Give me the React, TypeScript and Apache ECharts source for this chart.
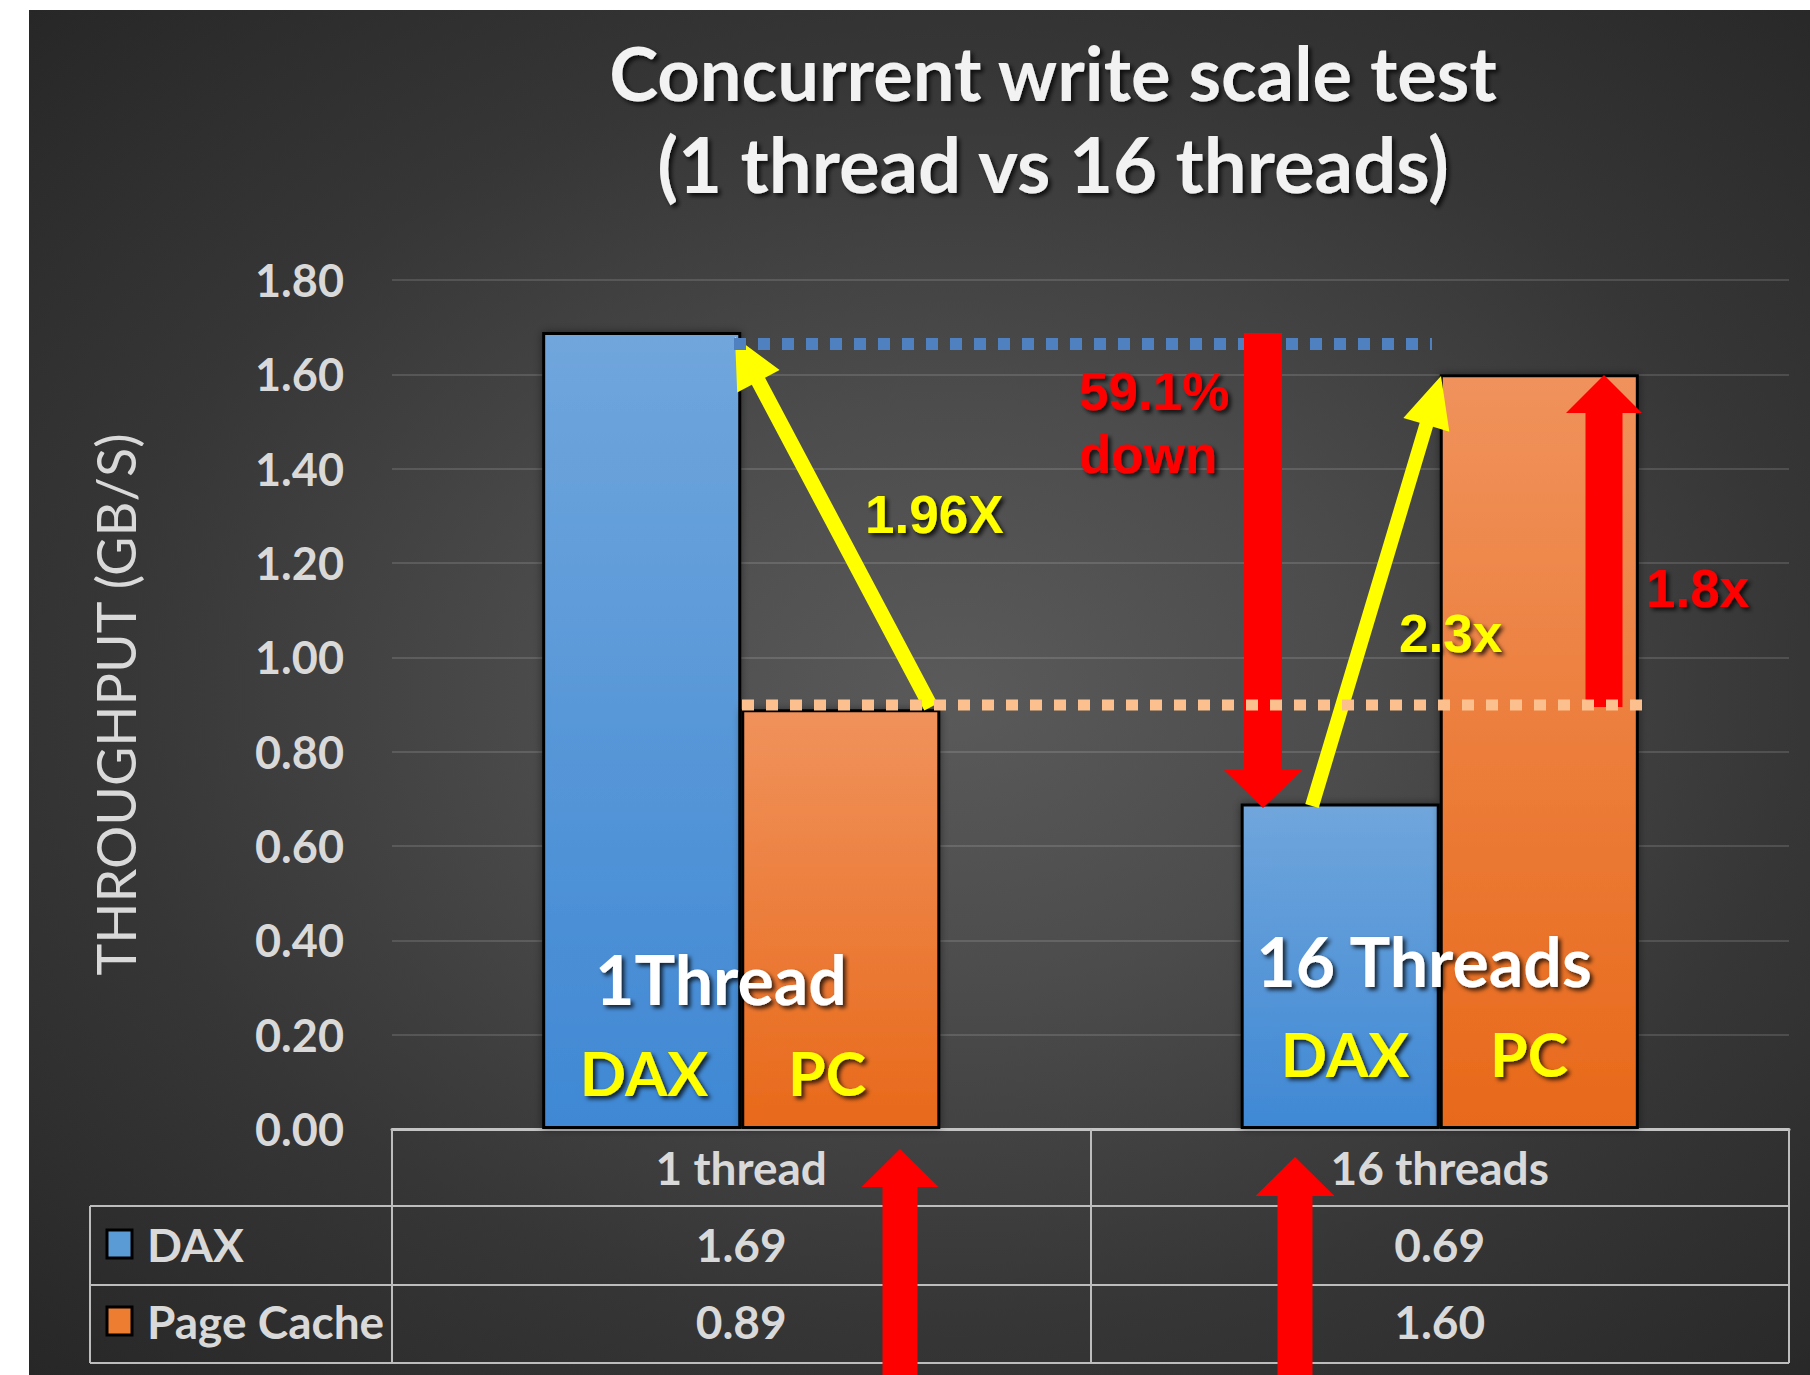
import React, { useEffect, useRef } from 'react';
import * as echarts from 'echarts';

// ---------- data ----------
const categories = ['1 thread', '16 threads'];
const seriesNames = ['DAX', 'Page Cache'];
const daxValues = [1.69, 0.69];
const pageCacheValues = [0.89, 1.6];
const yMin = 0;
const yMax = 1.8;
const yInterval = 0.2;
const titleLines = ['Concurrent write scale test', '(1 thread vs 16 threads)'];
const yAxisName = 'THROUGHPUT (GB/S)';
const groupLabels = ['1Thread', '16 Threads'];
const barShortLabels = ['DAX', 'PC'];

// ---------- layout ----------
const W = 1810;
const H = 1375;
const GL = 392;
const GR = 1789;
const GT = 280;
const GB = 1129;

const FONT = 'Lato, "Open Sans", sans-serif';
const ARIAL = '"Liberation Sans", Arial, sans-serif';

function arrowPoints(x1: number, y1: number, x2: number, y2: number, shaft: number, headL: number, headW: number) {
  const dx = x2 - x1;
  const dy = y2 - y1;
  const len = Math.sqrt(dx * dx + dy * dy);
  const ux = dx / len;
  const uy = dy / len;
  const nx = -uy;
  const ny = ux;
  const bx = x2 - ux * headL;
  const by = y2 - uy * headL;
  const s = shaft / 2;
  const h = headW / 2;
  return [
    [x1 + nx * s, y1 + ny * s],
    [bx + nx * s, by + ny * s],
    [bx + nx * h, by + ny * h],
    [x2, y2],
    [bx - nx * h, by - ny * h],
    [bx - nx * s, by - ny * s],
    [x1 - nx * s, y1 - ny * s],
  ];
}

function arrow(x1: number, y1: number, x2: number, y2: number, shaft: number, headL: number, headW: number, fill: string, z: number) {
  return {
    type: 'polygon',
    z,
    shape: { points: arrowPoints(x1, y1, x2, y2, shaft, headL, headW) },
    style: { fill },
  };
}

const shadowText = {
  textShadowColor: 'rgba(0,0,0,0.75)',
  textShadowBlur: 4,
  textShadowOffsetX: 3,
  textShadowOffsetY: 3,
};

function txt(x: number, y: number, text: string, opts: any, z = 30) {
  return {
    type: 'text',
    z,
    x,
    y,
    style: {
      text,
      textAlign: 'center',
      textVerticalAlign: 'middle',
      ...opts,
    },
  };
}

export default function App() {
  const ref = useRef<HTMLDivElement>(null);

  useEffect(() => {
    const chart = echarts.init(ref.current!, null, { renderer: 'svg' });

    const catW = (GR - GL) / categories.length;
    const catCenter = (i: number) => GL + catW * (i + 0.5);
    const rowY = [1244, 1321];
    const rowValues = [daxValues, pageCacheValues];

    const blueGrad = new echarts.graphic.LinearGradient(0, 0, 0, 1, [
      { offset: 0, color: '#70a6dc' },
      { offset: 1, color: '#3f88d4' },
    ]);
    const orangeGrad = new echarts.graphic.LinearGradient(0, 0, 0, 1, [
      { offset: 0, color: '#f0925c' },
      { offset: 1, color: '#e8691a' },
    ]);
    const legendColors = ['#5b9bd5', '#ed7d31'];

    const graphics: any[] = [];

    // title
    graphics.push(
      txt(1053, 72, titleLines[0], { fill: '#f2f2f2', font: `bold 74px ${FONT}`, ...shadowText }, 40),
      txt(1053, 163, titleLines[1], { fill: '#f2f2f2', font: `bold 76px ${FONT}`, ...shadowText }, 40)
    );

    // table lines
    const tableStroke = { stroke: '#bdbdbd', lineWidth: 2 };
    [1206, 1285, 1363].forEach((y) => {
      graphics.push({ type: 'line', z: 5, shape: { x1: 90, y1: y, x2: GR, y2: y }, style: tableStroke });
    });
    graphics.push({ type: 'line', z: 5, shape: { x1: 90, y1: 1206, x2: 90, y2: 1363 }, style: tableStroke });

    // legend keys + table values
    seriesNames.forEach((name, r) => {
      graphics.push({
        type: 'rect',
        z: 6,
        shape: { x: 107, y: rowY[r] - 14, width: 25, height: 28 },
        style: { fill: legendColors[r], stroke: '#000', lineWidth: 3 },
      });
      graphics.push({
        type: 'text',
        z: 6,
        x: 147,
        y: rowY[r],
        style: { text: name, fill: '#d9d9d9', font: `bold 46px ${FONT}`, textAlign: 'left', textVerticalAlign: 'middle' },
      });
      categories.forEach((_, c) => {
        graphics.push(txt(catCenter(c), rowY[r], rowValues[r][c].toFixed(2), { fill: '#d9d9d9', font: `bold 46px ${FONT}` }, 6));
      });
    });

    // yellow arrows
    graphics.push(arrow(931, 707, 735, 337, 15, 50, 48, '#ffff00', 20));
    graphics.push(arrow(1312, 806, 1441, 376, 14, 51, 48, '#ffff00', 20));

    // blue dotted line
    graphics.push({
      type: 'line',
      z: 21,
      shape: { x1: 734, y1: 344, x2: 1432, y2: 344 },
      style: { stroke: '#4f81c0', lineWidth: 12, lineDash: [12, 12] },
    });

    // red arrows
    graphics.push(arrow(1263, 333, 1263, 808, 38, 38, 78, '#ff0000', 22));
    graphics.push(arrow(1604, 707, 1604, 375, 37, 38, 76, '#ff0000', 22));
    graphics.push(arrow(900, 1380, 900, 1149, 35, 38, 77, '#ff0000', 22));
    graphics.push(arrow(1295, 1380, 1295, 1157, 35, 39, 79, '#ff0000', 22));

    // orange dotted line
    graphics.push({
      type: 'line',
      z: 23,
      shape: { x1: 742, y1: 705, x2: 1646, y2: 705 },
      style: { stroke: '#fbc08e', lineWidth: 11, lineDash: [12, 12] },
    });

    // annotation texts
    const annoFont = `bold 53px ${ARIAL}`;
    graphics.push(
      { type: 'text', z: 30, x: 865, y: 514, style: { text: '1.96X', fill: '#ffff00', font: annoFont, textAlign: 'left', textVerticalAlign: 'middle', ...shadowText } },
      { type: 'text', z: 30, x: 1079, y: 391, style: { text: '59.1%', fill: '#ff0000', font: annoFont, textAlign: 'left', textVerticalAlign: 'middle', ...shadowText } },
      { type: 'text', z: 30, x: 1079, y: 454, style: { text: 'down', fill: '#ff0000', font: annoFont, textAlign: 'left', textVerticalAlign: 'middle', ...shadowText } },
      { type: 'text', z: 30, x: 1399, y: 633, style: { text: '2.3x', fill: '#ffff00', font: annoFont, textAlign: 'left', textVerticalAlign: 'middle', ...shadowText } },
      { type: 'text', z: 30, x: 1646, y: 588, style: { text: '1.8x', fill: '#ff0000', font: annoFont, textAlign: 'left', textVerticalAlign: 'middle', ...shadowText } }
    );

    // labels inside bars
    graphics.push(
      txt(721, 978, groupLabels[0], { fill: '#ffffff', font: `bold 68px ${FONT}`, ...shadowText }, 30),
      txt(644, 1072, barShortLabels[0], { fill: '#ffff00', font: `bold 61px ${FONT}`, ...shadowText }, 30),
      txt(827, 1072, barShortLabels[1], { fill: '#ffff00', font: `bold 61px ${FONT}`, ...shadowText }, 30),
      txt(1424, 960, groupLabels[1], { fill: '#ffffff', font: `bold 68px ${FONT}`, ...shadowText }, 30),
      txt(1345, 1053, barShortLabels[0], { fill: '#ffff00', font: `bold 61px ${FONT}`, ...shadowText }, 30),
      txt(1529, 1053, barShortLabels[1], { fill: '#ffff00', font: `bold 61px ${FONT}`, ...shadowText }, 30)
    );

    const option: any = {
      animation: false,
      backgroundColor: 'transparent',
      grid: { left: GL, right: W - GR, top: GT, bottom: H - GB, containLabel: false },
      xAxis: {
        type: 'category',
        data: categories,
        axisLine: { show: true, lineStyle: { color: '#c4c4c4', width: 3 } },
        axisTick: { show: true, length: 234, lineStyle: { color: '#bdbdbd', width: 2 } },
        axisLabel: { color: '#d9d9d9', fontFamily: FONT, fontWeight: 'bold', fontSize: 46, margin: 15 },
        splitLine: { show: false },
      },
      yAxis: {
        type: 'value',
        min: yMin,
        max: yMax,
        interval: yInterval,
        name: yAxisName,
        nameLocation: 'middle',
        nameGap: 250,
        nameTextStyle: { color: '#d9d9d9', fontFamily: FONT, fontSize: 54, fontWeight: 'normal' },
        axisLine: { show: false },
        axisTick: { show: false },
        axisLabel: {
          color: '#d9d9d9',
          fontFamily: FONT,
          fontWeight: 'bold',
          fontSize: 45,
          margin: 48,
          formatter: (v: number) => v.toFixed(2),
        },
        splitLine: { lineStyle: { color: 'rgba(255,255,255,0.13)', width: 2 } },
      },
      series: [
        {
          name: seriesNames[0],
          type: 'bar',
          data: daxValues,
          barGap: '0%',
          barCategoryGap: '43%',
          itemStyle: { color: blueGrad, borderColor: '#000', borderWidth: 3, shadowBlur: 8, shadowColor: 'rgba(0,0,0,0.45)' },
        },
        {
          name: seriesNames[1],
          type: 'bar',
          data: pageCacheValues,
          barGap: '0%',
          barCategoryGap: '43%',
          itemStyle: { color: orangeGrad, borderColor: '#000', borderWidth: 3, shadowBlur: 8, shadowColor: 'rgba(0,0,0,0.45)' },
        },
      ],
      graphic: { elements: graphics },
    };

    chart.setOption(option);
    return () => chart.dispose();
  }, []);

  return (
    <div style={{ position: 'fixed', left: 0, top: 0, width: W, height: H, background: '#ffffff', overflow: 'hidden' }}>
      <div
        style={{
          position: 'absolute',
          left: 29,
          top: 10,
          right: 0,
          bottom: 0,
          background: 'radial-gradient(ellipse at 52% 50%, #5a5a5a 0%, #4c4c4c 30%, #363636 65%, #272727 100%)',
        }}
      />
      <div ref={ref} style={{ position: 'absolute', left: 0, top: 0, width: W, height: H }} />
    </div>
  );
}
